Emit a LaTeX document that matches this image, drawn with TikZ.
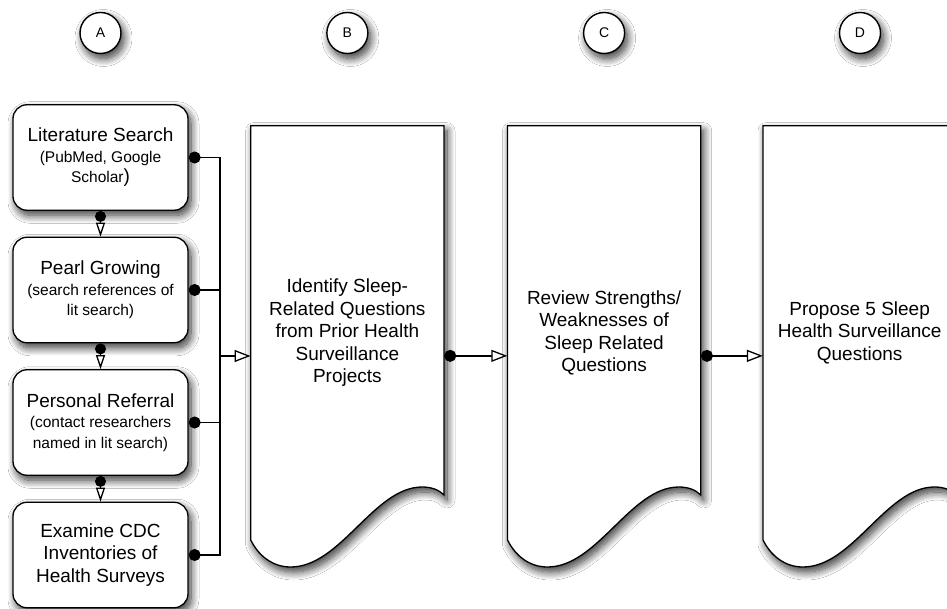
\documentclass[tikz,border=0pt]{standalone}
\usepackage{fontspec}
\setmainfont{Liberation Sans}
\usetikzlibrary{arrows.meta,shadows.blur}
\newcommand\bigf{\fontsize{19}{22.5}\selectfont}
\newcommand\smf{\fontsize{15.5}{20.5}\selectfont}
\tikzset{
  bigdot/.tip={Circle[length=12pt,width=12pt,fill=black]},
  smalldot/.tip={Circle[length=11pt,width=11pt,fill=black]},
  opentri/.tip={Triangle[length=16pt,width=12pt,fill=white]},
  slimtri/.tip={Triangle[length=14pt,width=9pt,fill=white]},
  shad/.style={blur shadow={shadow xshift=3pt,shadow yshift=-5pt,shadow blur radius=8pt,shadow blur steps=14,shadow opacity=80}},
  srcbox/.style={draw,line width=1.3pt,rounded corners=14pt,fill=white,minimum width=175pt,minimum height=105.5pt,align=center,inner sep=2pt,font=\smf,shad},
  lbl/.style={circle,draw,line width=1.4pt,fill=white,minimum size=41pt,inner sep=0pt,font=\fontsize{14}{16}\selectfont,shad},
  docsty/.style={draw,line width=1.3pt,fill=white,shad},
  docnode/.style={minimum width=193.3pt,minimum height=414pt,inner sep=0pt,align=center,font=\bigf},
  dotline/.style={draw=black,line width=1.3pt,arrows={bigdot-}},
  openarr/.style={draw=black,line width=1.3pt,arrows={-opentri}},
  conn/.style={draw=black,line width=1.3pt,arrows={bigdot-opentri}},
  vconn/.style={draw=black,line width=1.3pt,arrows={smalldot-slimtri}},
}
\newcommand\docpath[2]{%
  \draw[docsty] (#1,-125.7) -- (#2,-125.7) -- (#2,-495)
    .. controls (#2-5,-490) and (#2-12,-487) .. (#2-22,-487)
    .. controls (#2-70,-487) and (#1+90,-567) .. (#1+40,-567)
    .. controls (#1+22,-567) and (#1+8,-556) .. (#1,-540) -- cycle;}
\begin{document}
\begin{tikzpicture}[x=1pt,y=1pt]
\clip (0,0) rectangle (947,-609);
\fill[white] (0,0) rectangle (947,-609);

% header circles
\node[lbl] (cA) at (100.5,-33) {A};
\node[lbl] (cB) at (347.35,-33) {B};
\node[lbl] (cC) at (604.1,-33) {C};
\node[lbl] (cD) at (860,-33) {D};

% documents
\docpath{250.7}{444}
\docpath{507.5}{700.7}
\docpath{763}{956.3}
\node[docnode] (docB) at (347.35,-332.85) {Identify Sleep-\\Related Questions\\from Prior Health\\Surveillance\\Projects};
\node[docnode] (docC) at (604.1,-332.85) {Review Strengths/\\Weaknesses of\\Sleep Related\\Questions};
\node[docnode] (docD) at (859.65,-332.85) {Propose 5 Sleep\\Health Surveillance\\Questions};

% source boxes
\node[srcbox] (b1) at (100.5,-157.5) {{\bigf Literature Search}\\(PubMed, Google\\Scholar{\bigf )}};
\node[srcbox] (b2) at (100.5,-290) {{\bigf Pearl Growing}\\(search references of\\lit search)};
\node[srcbox] (b3) at (100.5,-422.5) {{\bigf Personal Referral}\\(contact researchers\\named in lit search)};
\node[srcbox,font=\bigf] (b4) at (100.5,-555) {Examine CDC\\Inventories of\\Health Surveys};

% connectors
\coordinate (j) at (220,-356);
\draw[dotline] (b1.east) -| (j);
\draw[dotline] (b2.east) -| (j);
\draw[dotline] (b3.east) -| (j);
\draw[dotline] (b4.east) -| (j);
\draw[openarr] (j) -- (j -| docB.west);
\draw[vconn] (b1.south) -- (b2.north);
\draw[vconn] (b2.south) -- (b3.north);
\draw[vconn] (b3.south) -- (b4.north);
\draw[conn] ([yshift=-23pt]docB.east) -- ([yshift=-23pt]docC.west);
\draw[conn] ([yshift=-23pt]docC.east) -- ([yshift=-23pt]docD.west);
\end{tikzpicture}
\end{document}
